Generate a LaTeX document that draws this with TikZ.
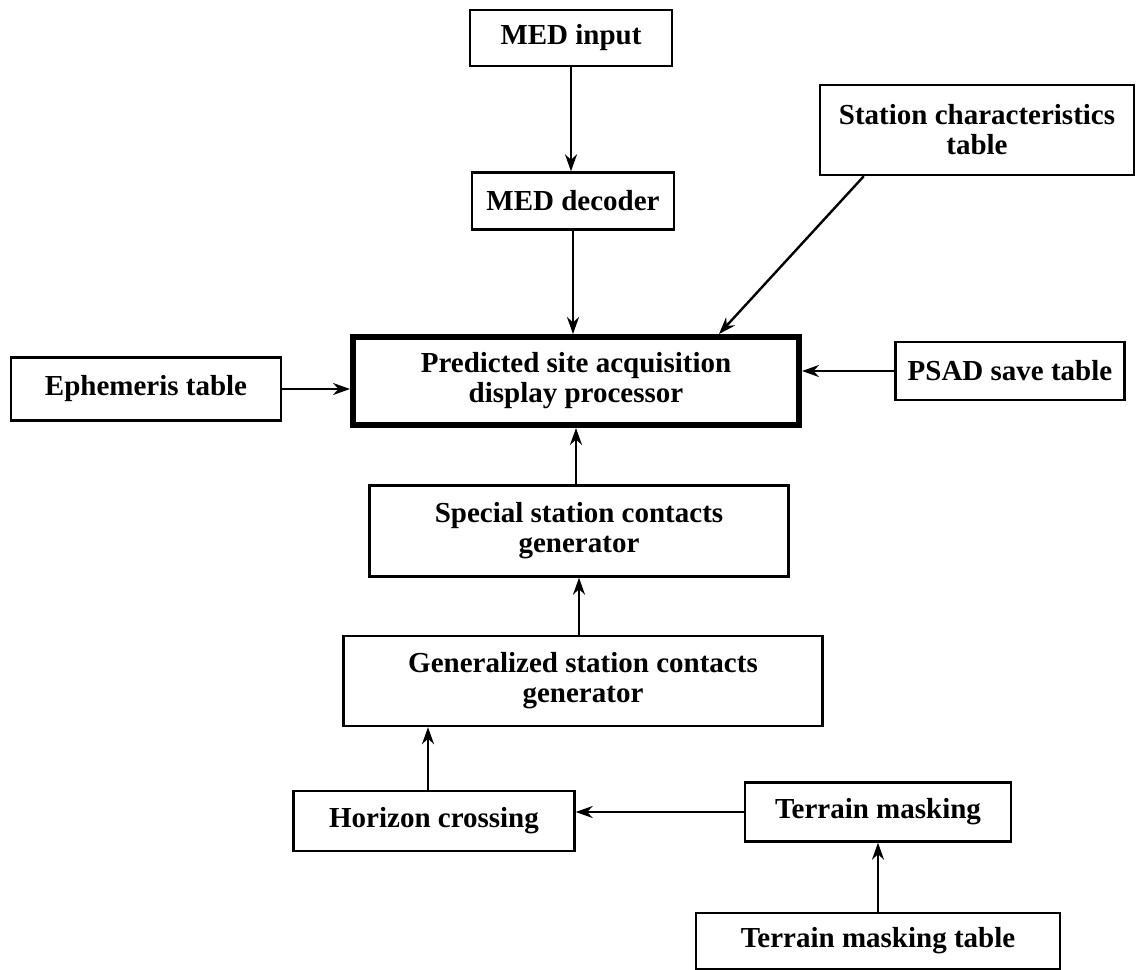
\documentclass[tikz,border=0pt]{standalone}
\usepackage{fontspec}
\setmainfont{Liberation Serif}
\usetikzlibrary{arrows.meta}
\begin{document}
\begin{tikzpicture}[x=0.5pt,y=-0.5pt,
  box/.style={draw,line width=1.2pt,align=center,inner sep=0pt,
    font=\fontsize{14.5}{15}\selectfont\bfseries},
  mainbox/.style={box,line width=3pt},
  arr/.style={line width=1.2pt,-{Stealth[length=8.5pt,width=6pt]}}]
\useasboundingbox (0,0) rectangle (1137,970);
\node[box,minimum width=101pt,minimum height=28pt] (medin) at (571,38) {MED input};
\node[box,minimum width=101pt,minimum height=28.5pt] (meddec) at (573,201) {MED decoder};
\node[box,minimum width=157pt,minimum height=45pt] (station) at (977,130) {Station characteristics\\table};
\node[mainbox,minimum width=223pt,minimum height=44pt] (main) at (576,381) {Predicted site acquisition\\display processor};
\node[box,minimum width=135pt,minimum height=31.5pt] (ephem) at (146,389) {Ephemeris table};
\node[box,minimum width=114.5pt,minimum height=29pt] (psad) at (1010,371) {PSAD save table};
\node[box,minimum width=209.5pt,minimum height=45.5pt] (special) at (579,531) {Special station contacts\\generator};
\node[box,minimum width=239.5pt,minimum height=45pt] (general) at (583,681) {Generalized station contacts\\generator};
\node[box,minimum width=140.5pt,minimum height=30pt] (horizon) at (434,821) {Horizon crossing};
\node[box,minimum width=133pt,minimum height=29.5pt] (terrain) at (878,812) {Terrain masking};
\node[box,minimum width=182pt,minimum height=28pt] (table) at (878,941) {Terrain masking table};
\draw[arr] (medin) -- (medin |- meddec.north);
\draw[arr] (meddec) -- (meddec |- main.north);
\draw[arr] ([xshift=22.5pt]station.south west) -- ([xshift=-41.5pt]main.north east);
\draw[arr] (ephem.east) -- (main.west |- ephem.east);
\draw[arr] (psad.west) -- (main.east |- psad.west);
\draw[arr] (special.north -| main) -- (main.south);
\draw[arr] (general.north -| special) -- (special.south);
\draw[arr] ([xshift=-3pt]horizon.north) -- ([xshift=-3pt]horizon.north |- general.south);
\draw[arr] (terrain.west) -- (horizon.east |- terrain.west);
\draw[arr] (table) -- (terrain);
\end{tikzpicture}
\end{document}
